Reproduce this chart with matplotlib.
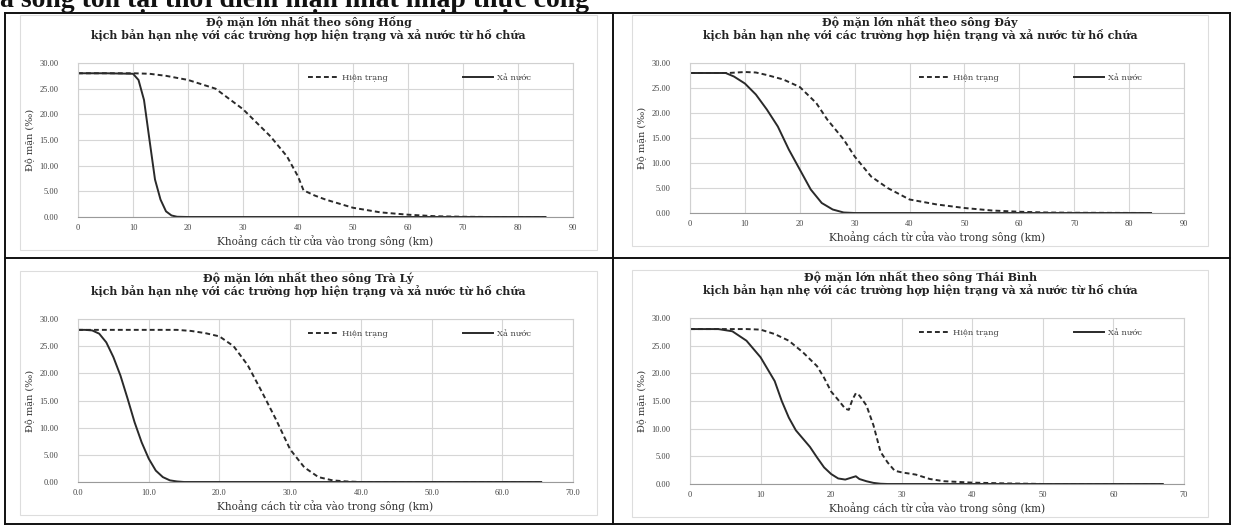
import matplotlib.pyplot as plt
from matplotlib.lines import Line2D
from matplotlib.patches import Rectangle

plt.rcParams['font.family'] = ['DejaVu Serif']

# distances along the river (km) and max salinity (per mille)
hong_x_ht = [0, 5, 10, 13, 16, 20, 25, 30, 35, 38, 40, 41, 43, 45, 50, 55, 60, 65, 70, 75, 80, 85]
hong_ht = [28, 28, 28, 27.9, 27.5, 26.7, 25, 21, 15.7, 11.8, 7.9, 5.2, 4.2, 3.4, 1.8, 0.9, 0.45, 0.15, 0.05, 0, 0, 0]
hong_x_xn = [0, 5, 10, 11, 12, 13, 14, 15, 16, 17, 18, 20, 30, 50, 70, 85]
hong_xn = [28, 28, 27.9, 26.7, 22.8, 15, 7.3, 3.4, 1.1, 0.3, 0.05, 0, 0, 0, 0, 0]

day_x_ht = [0, 4, 7, 10, 12, 14, 17, 20, 23, 25, 28, 30, 33, 36, 40, 45, 50, 55, 60, 65, 70, 84]
day_ht = [28, 28, 28, 28.2, 28.1, 27.6, 26.7, 25.2, 22, 18.7, 14.7, 11.3, 7.3, 5, 2.7, 1.7, 1, 0.5, 0.25, 0.1, 0.05, 0]
day_x_xn = [0, 4, 6.5, 8, 10, 12, 14, 16, 18, 20, 22, 24, 26, 28, 30, 50, 70, 84]
day_xn = [28, 28, 28, 27.3, 25.9, 23.7, 20.7, 17.3, 12.7, 8.7, 4.7, 2, 0.7, 0.1, 0, 0, 0, 0]

traly_x_ht = [0, 5, 10, 14, 16, 18, 20, 22, 24, 26, 28, 30, 32, 34, 36, 38, 40, 50, 65.5]
traly_ht = [28, 28, 28, 28, 27.8, 27.4, 26.8, 25, 21.5, 16.6, 11.5, 6, 2.7, 0.9, 0.3, 0.1, 0, 0, 0]
traly_x_xn = [0, 1, 2, 3, 4, 5, 6, 7, 8, 9, 10, 11, 12, 13, 14, 15, 30, 50, 65.5]
traly_xn = [28, 28, 27.9, 27.3, 25.7, 23, 19.6, 15.4, 11, 7.3, 4.3, 2.1, 0.9, 0.3, 0.1, 0, 0, 0, 0]

tb_x_ht = [0, 4, 8, 10, 12, 14, 16, 18, 19, 20, 21, 22, 22.5, 23, 23.5, 24, 25, 26, 27, 28, 29, 30, 32,
           34, 36, 40, 45, 48, 50, 67]
tb_ht = [28, 28, 28, 27.9, 27.1, 25.9, 23.8, 21.3, 19.2, 16.7, 15.2, 13.6, 13.4, 15.2, 16.4, 16, 14.2,
         10.6, 5.8, 3.9, 2.4, 2.1, 1.7, 0.9, 0.5, 0.25, 0.1, 0.05, 0, 0]
tb_x_xn = [0, 4, 6, 8, 10, 12, 13, 14, 15, 16, 17, 18, 19, 20, 21, 22, 23, 23.5, 24, 25, 26, 27, 28, 40, 67]
tb_xn = [28, 28, 27.6, 25.9, 22.9, 18.6, 15, 12, 9.7, 8.2, 6.7, 4.8, 3, 1.8, 1.0, 0.8, 1.2, 1.4, 0.9,
         0.5, 0.2, 0.05, 0, 0, 0]

rivers = ['Hồng', 'Đáy', 'Trà Lý', 'Thái Bình']
xmax = [90, 90, 70, 70]
xfmt = ['{:.0f}', '{:.0f}', '{:.1f}', '{:.0f}']
series = [(hong_x_ht, hong_ht, hong_x_xn, hong_xn),
          (day_x_ht, day_ht, day_x_xn, day_xn),
          (traly_x_ht, traly_ht, traly_x_xn, traly_xn),
          (tb_x_ht, tb_ht, tb_x_xn, tb_xn)]

W, H = 1235, 525
fig = plt.figure(figsize=(W / 100, H / 100), dpi=100)

# axes boxes in pixels: left, top, right, bottom
boxes = [(78, 63, 573, 217), (690, 63, 1184, 213), (78, 319, 573, 482), (690, 318, 1184, 484)]
line_col = '#2a2a2a'
serif_small = ['Liberation Serif', 'DejaVu Serif']

for i, (l, t, r, b) in enumerate(boxes):
    ax = fig.add_axes([l / W, 1 - b / H, (r - l) / W, (b - t) / H])
    xh, yh, xx, yx = series[i]
    ax.plot(xh, yh, color=line_col, lw=1.4, ls=(0, (2.5, 1.6)), label='Hiện trạng')
    ax.plot(xx, yx, color=line_col, lw=1.4, label='Xả nước')
    ax.set_xlim(0, xmax[i])
    ax.set_ylim(0, 30)
    ax.set_xticks(range(0, xmax[i] + 1, 10))
    ax.set_xticklabels([xfmt[i].format(v) for v in range(0, xmax[i] + 1, 10)])
    ax.set_yticks(range(0, 31, 5))
    ax.set_yticklabels(['{:.2f}'.format(v) for v in range(0, 31, 5)])
    for lab in ax.get_xticklabels() + ax.get_yticklabels():
        lab.set_family(serif_small)
    ax.grid(True, color='#d6d6d6', lw=0.8)
    ax.set_axisbelow(True)
    for s in ax.spines.values():
        s.set_color('#d0d0d0')
        s.set_linewidth(0.8)
    ax.spines['bottom'].set_color('#9a9a9a')
    ax.tick_params(axis='both', length=0, labelsize=6, colors='#444444')
    ax.tick_params(axis='y', pad=14)
    ax.tick_params(axis='x', pad=5)
    ax.set_xlabel('Khoảng cách từ cửa vào trong sông (km)', fontsize=7.6, color='#333333', labelpad=2)
    ax.set_ylabel('Độ mặn (‰)', fontsize=7, color='#333333', labelpad=3)
    ax.set_title('Độ mặn lớn nhất theo sông ' + rivers[i] +
                 '\nkịch bản hạn nhẹ với các trường hợp hiện trạng và xả nước từ hồ chứa',
                 fontsize=7.9, fontweight='bold', color='#222222', pad=17, linespacing=1.1, x=0.466)
    ax.legend(loc='upper right', bbox_to_anchor=(0.93, 0.98), ncol=2, frameon=False, fontsize=6,
              columnspacing=9, handlelength=3.6, handletextpad=0.5, labelcolor='#444444')

    # light grey chart frame
    fig.add_artist(Rectangle(((l - 58) / W, 1 - (b + 33) / H), (r - l + 82) / W, (b + 33 - (t - 48)) / H,
                             transform=fig.transFigure, fill=False, ec='#dddddd', lw=0.8))

# table borders
for x in [5, 613, 1230]:
    fig.add_artist(Line2D([x / W, x / W], [0, 1 - 13 / H], color='#111111', lw=1.4))
for y in [13, 258, 524]:
    fig.add_artist(Line2D([5 / W, 1230 / W], [1 - y / H, 1 - y / H], color='#111111', lw=1.4))

# clipped heading line from the page above
fig.text(0.0, 1 - 7 / H, 'a sông tồn tại thời điểm mặn nhất nhập thực công', fontsize=20,
         fontweight='bold', ha='left', va='baseline', color='#111111',
         family=['Liberation Serif', 'DejaVu Serif'])

fig.savefig('out.png', dpi=100)
